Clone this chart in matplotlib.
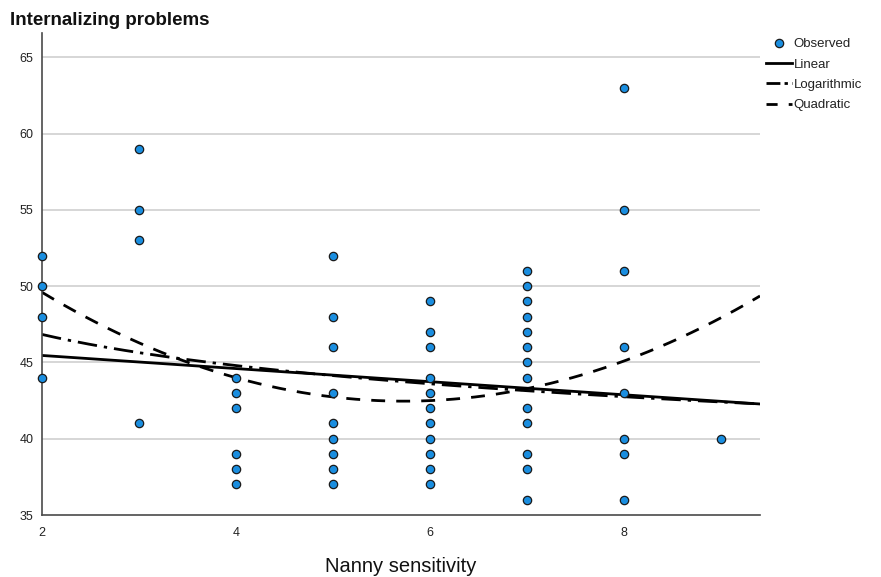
import numpy as np
import matplotlib
matplotlib.use('agg')
import matplotlib.pyplot as plt
from matplotlib.lines import Line2D

plt.rcParams['font.family'] = ['Liberation Sans', 'DejaVu Sans']

# observed values, one list per nanny sensitivity score
SENS = [2, 3, 4, 5, 6, 7, 8, 9]
SCORES = [
    [52, 50, 48, 44],
    [59, 55, 53, 41],
    [44, 43, 42, 39, 38, 37],
    [52, 48, 46, 43, 41, 40, 39, 38, 37],
    [49, 47, 46, 44, 43, 42, 41, 40, 39, 38, 37],
    [51, 50, 49, 48, 47, 46, 45, 44, 42, 41, 39, 38, 36],
    [63, 55, 51, 46, 43, 40, 39, 36],
    [40],
]

# fitted curve coefficients
LINEAR = [46.32, -0.43]          # a + b*x
LOGARITHMIC = [48.88, -2.946]    # a + b*ln(x)
QUADRATIC = [59.3, -5.875, 0.5125]  # a + b*x + c*x^2

XLIM = (2, 9.4)
YLIM = (35, 66.6)
BLUE = '#1a8ee0'

fig = plt.figure(figsize=(8.81, 5.77), dpi=100)
ax = fig.add_axes([42 / 881, 1 - 515 / 577, (760 - 42) / 881, (515 - 33) / 577])

xs = [x for x, vals in zip(SENS, SCORES) for _ in vals]
ys = [v for vals in SCORES for v in vals]

for y in [40, 45, 50, 55, 60, 65]:
    ax.axhline(y, color='#cfcfcf', linewidth=1.2, zorder=0)

grid = np.linspace(XLIM[0], XLIM[1], 200)
ax.plot(grid, LINEAR[0] + LINEAR[1] * grid, color='black', lw=2, zorder=2)
ax.plot(grid, LOGARITHMIC[0] + LOGARITHMIC[1] * np.log(grid), color='black', lw=2,
        dashes=(7, 2.5, 1.2, 2.5), zorder=2)
ax.plot(grid, QUADRATIC[0] + QUADRATIC[1] * grid + QUADRATIC[2] * grid ** 2, color='black',
        lw=2, dashes=(5, 4), zorder=2)
ax.scatter(xs, ys, s=36, color=BLUE, edgecolor='#1a1a1a', linewidth=0.9, zorder=3, clip_on=False)

ax.set_xlim(*XLIM)
ax.set_ylim(*YLIM)
ax.set_xticks([2, 4, 6, 8])
ax.set_yticks([35, 40, 45, 50, 55, 60, 65])
ax.tick_params(length=0, labelsize=9, colors='#222222')
ax.tick_params(axis='x', pad=9)
ax.tick_params(axis='y', pad=6)
for s in ['top', 'right']:
    ax.spines[s].set_visible(False)
for s in ['left', 'bottom']:
    ax.spines[s].set_color('#4a4a4a')
    ax.spines[s].set_linewidth(1.2)

fig.text(10 / 881, 1 - 25 / 577, 'Internalizing problems', fontsize=13.5, fontweight='bold',
         color='#111111', ha='left', va='baseline')
fig.text(401 / 881, 1 - 572 / 577, 'Nanny sensitivity', fontsize=14.5, color='#111111',
         ha='center', va='baseline')

handles = [
    Line2D([], [], linestyle='none', marker='o', markersize=6, markerfacecolor=BLUE,
           markeredgecolor='#1a1a1a', markeredgewidth=0.9),
    Line2D([], [], color='black', lw=2),
    Line2D([], [], color='black', lw=2, dashes=(5, 1.5, 1.2, 1.5)),
    Line2D([], [], color='black', lw=2, dashes=(4, 4)),
]
fig.legend(handles, ['Observed', 'Linear', 'Logarithmic', 'Quadratic'],
           loc='upper left', bbox_to_anchor=(766 / 881, 1 - 38 / 577), frameon=False,
           fontsize=9.5, handlelength=2.0, handletextpad=0.1, labelspacing=0.62,
           borderaxespad=0, borderpad=0, labelcolor='#222222')

fig.savefig('out.png', dpi=100)
